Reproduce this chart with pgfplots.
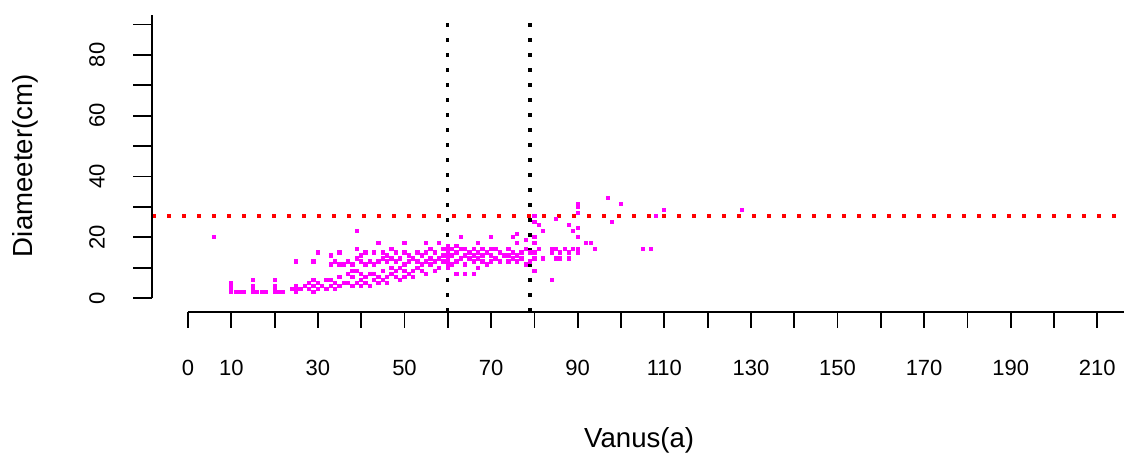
\documentclass[border=0pt]{standalone}
\usepackage{fontspec}
\setmainfont{Liberation Sans}
\usepackage{pgfplots}
\usepackage{pgfplotstable}
\pgfplotsset{compat=1.18}
\definecolor{pmag}{HTML}{FF00FF}
\definecolor{pred}{HTML}{FF0000}
\pgfplotstableread{
a d
6 20
10 2
10 3
10 4
10 5
11 2
12 2
13 2
15 2
15 3
15 4
15 6
16 2
17 2
18 2
20 2
20 3
20 4
20 6
21 2
22 2
24 3
25 2
25 3
25 4
25 12
26 3
27 4
28 3
28 5
29 2
29 4
29 6
29 12
30 3
30 5
30 15
31 4
32 3
32 6
33 4
33 6
33 11
33 14
34 3
34 5
34 12
35 4
35 7
35 11
35 15
36 5
36 11
37 5
37 8
37 12
38 4
38 7
38 9
38 11
39 5
39 9
39 13
39 16
39 22
40 4
40 6
40 8
40 12
40 14
41 5
41 7
41 11
41 15
42 4
42 8
42 12
43 6
43 8
43 11
43 15
44 5
44 7
44 12
44 18
45 6
45 9
45 13
45 15
46 5
46 7
46 12
46 14
47 8
47 10
47 13
47 16
48 7
48 9
48 12
48 15
49 6
49 10
49 13
50 7
50 9
50 11
50 15
50 18
51 8
51 12
51 14
52 7
52 9
52 13
53 10
53 12
53 15
54 9
54 11
54 14
55 8
55 12
55 15
55 18
56 11
56 13
56 16
57 9
57 12
57 15
58 10
58 13
58 18
59 12
59 14
59 16
60 10
60 11
60 12
60 13
60 14
60 15
60 16
60 17
61 11
61 14
61 16
62 8
62 12
62 15
62 17
63 13
63 16
63 20
64 8
64 11
64 14
64 16
65 13
65 15
66 8
66 12
66 14
66 16
67 10
67 13
67 15
67 18
68 12
68 14
68 16
69 11
69 15
70 12
70 14
70 16
70 20
71 13
71 16
72 12
72 15
73 14
74 12
74 14
74 16
75 13
75 15
75 20
76 12
76 14
76 18
76 21
77 13
77 15
78 11
78 16
78 19
79 12
79 15
80 9
80 13
80 15
80 18
80 20
80 25
80 27
81 16
81 24
82 13
82 22
84 6
84 15
84 16
85 13
85 16
85 26
86 13
86 15
87 16
88 13
88 15
88 24
89 16
89 22
90 15
90 16
90 20
90 23
90 28
90 30
90 31
92 18
93 18
94 16
97 33
98 25
100 31
105 16
107 16
108 27
110 29
128 29
}\pts
\begin{document}
\begin{tikzpicture}
\begin{axis}[
  at={(94pt,79pt)}, anchor=origin,
  x=2.165pt, y=1.52pt,
  xmin=-8.3, xmax=216.5, ymin=-4.6, ymax=91,
  hide axis, clip=false,
]
\addplot[only marks, mark=square*, mark size=0.8pt,
  mark options={fill=pmag, draw=pmag, line width=0pt}] table[x=a, y=d] {\pts};
% reference lines
\addplot[pred, line width=1.6pt, dash pattern=on 2pt off 5.5pt] coordinates {(-8.3,27) (216.5,27)};
\addplot[black, line width=1.6pt, dash pattern=on 2pt off 5.5pt] coordinates {(60,-4.6) (60,91)};
\addplot[black, line width=1.6pt, dash pattern=on 2pt off 5.5pt] coordinates {(79,-4.6) (79,91)};
% y axis
\draw[line width=0.9pt] (axis cs:-8.3,0) -- (axis cs:-8.3,93);
\pgfplotsinvokeforeach{0,10,...,90}{
  \draw[line width=0.9pt] (axis cs:-8.3,#1) -- (axis cs:-12.7,#1);
}
\pgfplotsinvokeforeach{0,20,...,80}{
  \node[rotate=90, font=\fontsize{11}{13}\selectfont] at (axis cs:-21,#1) {#1};
}
% x axis
\draw[line width=0.9pt] (axis cs:0,-4.6) -- (axis cs:218,-4.6);
\pgfplotsinvokeforeach{0,10,...,210}{
  \draw[line width=0.9pt] (axis cs:#1,-4.6) -- (axis cs:#1,-9.9);
}
\node[font=\fontsize{11}{13}\selectfont] at (axis cs:0,-23) {0};
\pgfplotsinvokeforeach{10,30,...,210}{
  \node[font=\fontsize{11}{13}\selectfont] at (axis cs:#1,-23) {#1};
}
\node[font=\fontsize{13.8}{16}\selectfont] at (axis cs:104.2,-46.7) {Vanus(a)};
\node[rotate=90, font=\fontsize{13.8}{16}\selectfont] at (axis cs:-37.6,43.5) {Diameeter(cm)};
\end{axis}
\pgfresetboundingbox
\path[use as bounding box] (0,0) rectangle (562pt,228pt);
\end{tikzpicture}
\end{document}
